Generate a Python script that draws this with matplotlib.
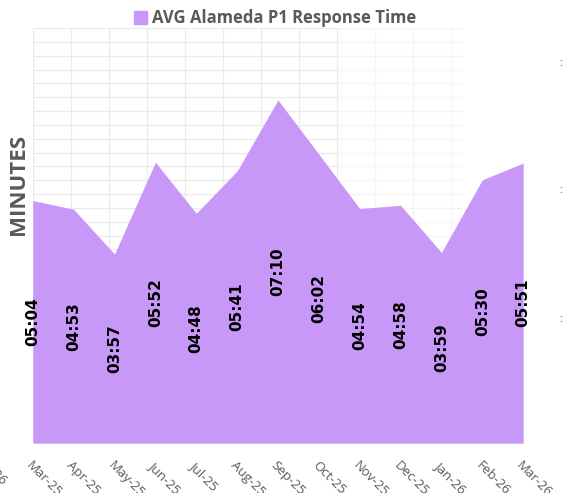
import numpy as np
import matplotlib
matplotlib.use("Agg")
import matplotlib.pyplot as plt
from matplotlib.patches import Patch

months = ["Mar-25", "Apr-25", "May-25", "Jun-25", "Jul-25", "Aug-25", "Sep-25",
          "Oct-25", "Nov-25", "Dec-25", "Jan-26", "Feb-26", "Mar-26"]
# average response time in seconds
seconds = [304, 293, 237, 352, 288, 341, 430, 362, 294, 298, 239, 330, 351]
labels = ["05:04", "04:53", "03:57", "05:52", "04:48", "05:41", "07:10",
          "06:02", "04:54", "04:58", "03:59", "05:30", "05:51"]

fill_col = "#C898F8"
grey = "#595959"
plt.rcParams["font.family"] = ["Open Sans", "DejaVu Sans"]

fig = plt.figure(figsize=(5.65, 4.93), dpi=100)
ax = fig.add_axes([0.058, 0.101, 0.868, 0.842])

x = np.arange(len(months))
ax.fill_between(x, 0, seconds, color=fill_col, linewidth=0, zorder=2)

for xi, s, lab in zip(x, seconds, labels):
    ax.text(xi, s / 2, lab, rotation=90, ha="center", va="center",
            fontsize=11, fontweight="bold", color="black",
            family="DejaVu Sans", zorder=3)

ax.set_xlim(0, len(months) - 1)
ax.set_ylim(0, 520)

# faint background grid, fading out to the right
for gy in np.arange(0, 521, 520 / 30):
    ax.plot([0, 7.5], [gy, gy], color="#ebebeb", lw=0.9, zorder=1)
    ax.plot([7.5, 10.5], [gy, gy], color="#f5f5f5", lw=0.9, zorder=1)
for gx in np.arange(0, 10.6, 0.93):
    ax.axvline(gx, color="#ebebeb" if gx < 7.5 else "#f5f5f5", lw=0.9, zorder=1)

ax.set_xticks(x)
ax.set_xticklabels(months, rotation=-45, ha="left", va="top",
                   rotation_mode="anchor", fontsize=9.5, color=grey)
ax.tick_params(axis="x", length=0, pad=11)
ax.set_yticks([])
for sp in ax.spines.values():
    sp.set_visible(False)

fig.text(0.032, 0.625, "MINUTES", rotation=90, ha="center", va="center",
         fontsize=16, fontweight="bold", color=grey)

# cropped leftovers at the screenshot edges
fig.text(-0.04, 1 - 448 / 493, "Mar-26", rotation=-45, ha="left", va="top",
         rotation_mode="anchor", fontsize=9.5, color=grey)
for py in [64, 191, 319]:
    fig.text(0.993, 1 - py / 493, ":", ha="center", va="center",
             fontsize=8, fontweight="bold", color="#9a9a9a")

fig.legend(handles=[Patch(color=fill_col)], labels=["AVG Alameda P1 Response Time"],
           loc="upper center", bbox_to_anchor=(0.487, 1.012), frameon=False,
           handlelength=0.8, handleheight=0.8, handletextpad=0.3,
           prop={"weight": "bold", "size": 12}, labelcolor=grey)

fig.savefig("out.png", dpi=100)
